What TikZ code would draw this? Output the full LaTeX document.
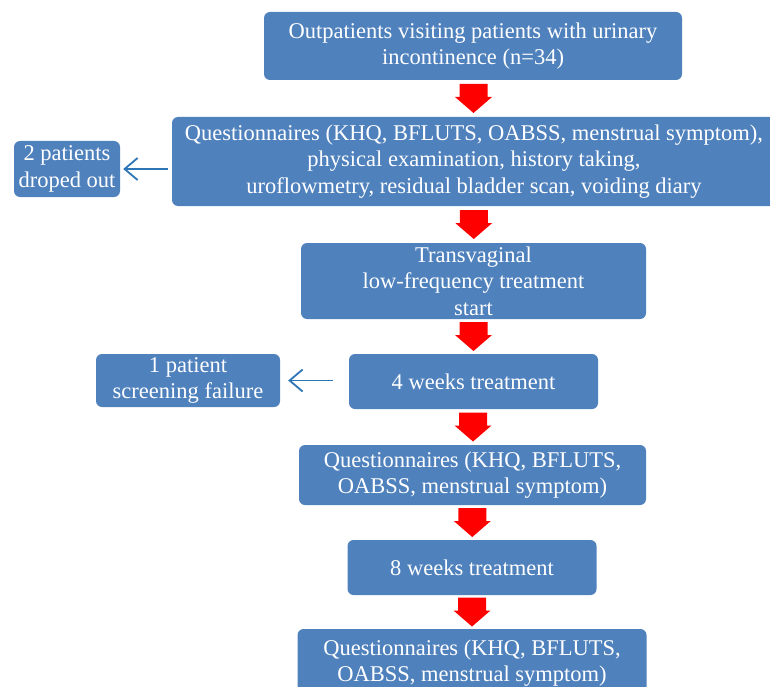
\documentclass[tikz,border=0pt]{standalone}
\usepackage{fontspec}
\setmainfont{Liberation Serif}
\usetikzlibrary{
    arrows.meta,
    calc,
    positioning
}
\definecolor{boxblue}{HTML}{4F81BD}
\definecolor{linkblue}{HTML}{2E75B6}
\definecolor{flowred}{HTML}{FF0000}

% red block arrow between two boxes
\newcommand{\flowarrow}[2]{%
    \fill[flowred] ($(#1.south)!0.5!(#2.north)$) ++(-14,-14.5) -- ++(28,0) -- ++(0,13)
        -- ++(4.5,0) -- ++(-18.5,16) -- ++(-18.5,-16) -- ++(4.5,0) -- cycle;}

\begin{document}
\begin{tikzpicture}[x=1pt, y=-1pt,
    flowbox/.style={rectangle, rounded corners=6pt, fill=boxblue, text=white,
        align=center, inner sep=0pt,
        font=\fontsize{22.5}{26.5}\selectfont},
    sidearrow/.style={draw=linkblue, line width=1.8pt,
        -{Straight Barb[length=13pt, width=22pt]}}
    ]
                                \useasboundingbox (0,0) rectangle (770,687);
                                \clip (0,0) rectangle (770,687);
                                \node[flowbox, minimum width=418, minimum height=68] (outp) at (473, 46)
                                    {Outpatients visiting patients with urinary\\incontinence (n=34)};
                                \node[flowbox, minimum width=604, minimum height=89] (exam) at (474, 161.5)
                                    {Questionnaires (KHQ, BFLUTS, OABSS, menstrual symptom),\\physical examination, history taking,\\uroflowmetry, residual bladder scan, voiding diary};
                                \node[flowbox, minimum width=106, minimum height=56] (drop) at (67, 169)
                                    {2 patients\\droped out};
                                \node[flowbox, minimum width=345, minimum height=76] (start) at (473.5, 281)
                                    {Transvaginal\\low-frequency treatment\\start};
                                \node[flowbox, minimum width=249, minimum height=55] (wfour) at (473.5, 381.5)
                                    {4 weeks treatment};
                                \node[flowbox, minimum width=184, minimum height=53] (fail) at (188, 380.5)
                                    {1 patient\\screening failure};
                                \node[flowbox, minimum width=347, minimum height=60] (quesa) at (472.5, 475)
                                    {Questionnaires (KHQ, BFLUTS,\\OABSS, menstrual symptom)};
                                \node[flowbox, minimum width=249, minimum height=55] (weight) at (472, 567.5)
                                    {8 weeks treatment};
                                \node[flowbox, minimum width=349, minimum height=68] (quesb) at (472, 663)
                                    {Questionnaires (KHQ, BFLUTS,\\OABSS, menstrual symptom)};
                                \flowarrow{outp}{exam}
                                \flowarrow{exam}{start}
                                \flowarrow{start}{wfour}
                                \flowarrow{wfour}{quesa}
                                \flowarrow{quesa}{weight}
                                \flowarrow{weight}{quesb}
                                \draw[sidearrow, shorten <=4pt, shorten >=3pt] (exam.west |- drop.east) -- (drop.east);
                                \draw[sidearrow, shorten <=16pt, shorten >=8pt] (wfour.west |- fail.east) -- (fail.east);
                            \end{tikzpicture}
\end{document}
